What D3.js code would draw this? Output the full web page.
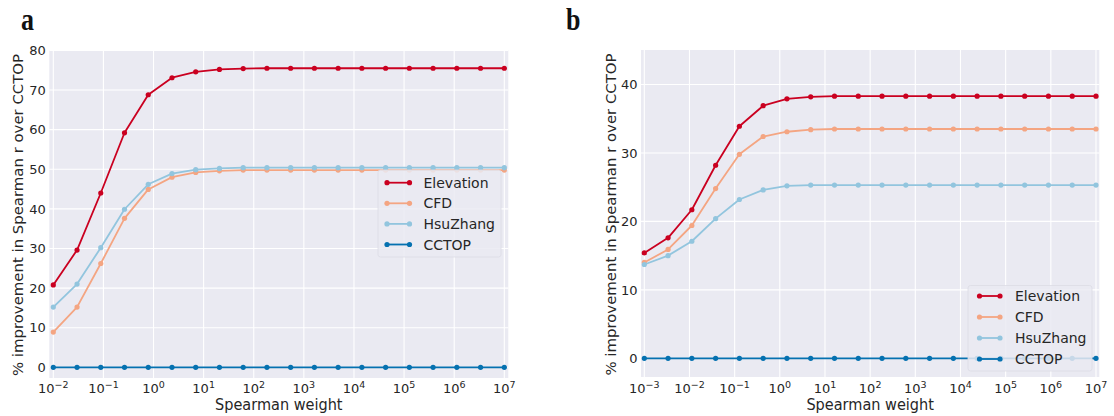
<!DOCTYPE html>
<html><head><meta charset="utf-8">
<script src="https://cdn.jsdelivr.net/npm/d3@7"></script>
<style>
html,body{margin:0;padding:0;background:#fff;}
svg{display:block;font-family:"DejaVu Sans",sans-serif;}
</style></head>
<body>
<svg id="chart" width="1114" height="416"></svg>
<script>
// ---- data ----
const seriesNames = ["Elevation", "CFD", "HsuZhang", "CCTOP"];
const seriesColors = ["#ca0020", "#f4a582", "#92c5de", "#0571b0"];

// Spearman weights (log10 exponents) for panel a and b
const weightExpA = [-2, -1.5263, -1.0526, -0.5789, -0.1053, 0.3684, 0.8421, 1.3158, 1.7895, 2.2632,
                    2.7368, 3.2105, 3.6842, 4.1579, 4.6316, 5.1053, 5.5789, 6.0526, 6.5263, 7];
const weightExpB = [-3, -2.4737, -1.9474, -1.4211, -0.8947, -0.3684, 0.1579, 0.6842, 1.2105, 1.7368,
                    2.2632, 2.7895, 3.3158, 3.8421, 4.3684, 4.8947, 5.4211, 5.9474, 6.4737, 7];

const elevationA = [20.8, 29.6, 44.0, 59.2, 68.8, 73.1, 74.6, 75.2, 75.4, 75.5, 75.5, 75.5, 75.5, 75.5, 75.5, 75.5, 75.5, 75.5, 75.5, 75.5];
const cfdA       = [8.9, 15.2, 26.2, 37.6, 44.9, 48.0, 49.2, 49.6, 49.8, 49.8, 49.8, 49.8, 49.8, 49.8, 49.8, 49.8, 49.8, 49.8, 49.8, 49.8];
const hsuZhangA  = [15.2, 21.0, 30.2, 39.9, 46.2, 48.9, 49.9, 50.2, 50.4, 50.4, 50.4, 50.4, 50.4, 50.4, 50.4, 50.4, 50.4, 50.4, 50.4, 50.4];
const cctopA     = [0, 0, 0, 0, 0, 0, 0, 0, 0, 0, 0, 0, 0, 0, 0, 0, 0, 0, 0, 0];

const elevationB = [15.4, 17.6, 21.7, 28.2, 33.9, 36.9, 37.9, 38.2, 38.3, 38.3, 38.3, 38.3, 38.3, 38.3, 38.3, 38.3, 38.3, 38.3, 38.3, 38.3];
const cfdB       = [14.0, 15.9, 19.4, 24.8, 29.8, 32.4, 33.1, 33.4, 33.5, 33.5, 33.5, 33.5, 33.5, 33.5, 33.5, 33.5, 33.5, 33.5, 33.5, 33.5];
const hsuZhangB  = [13.7, 15.0, 17.1, 20.4, 23.2, 24.6, 25.2, 25.3, 25.3, 25.3, 25.3, 25.3, 25.3, 25.3, 25.3, 25.3, 25.3, 25.3, 25.3, 25.3];
const cctopB     = [0, 0, 0, 0, 0, 0, 0, 0, 0, 0, 0, 0, 0, 0, 0, 0, 0, 0, 0, 0];

const xTickExpA = [-2, -1, 0, 1, 2, 3, 4, 5, 6, 7];
const xTickExpB = [-3, -2, -1, 0, 1, 2, 3, 4, 5, 6, 7];
const yTicksA = [0, 10, 20, 30, 40, 50, 60, 70, 80];
const yTicksB = [0, 10, 20, 30, 40];

const xLabel = "Spearman weight";
const yLabel = "% improvement in Spearman r over CCTOP";

// ---- drawing ----
const svg = d3.select("#chart");
const textColor = "#262626";

function panel(cfg) {
  const g = svg.append("g");
  const L = cfg.left, R = cfg.right, T = cfg.top, B = cfg.bottom;
  const x = d3.scaleLog().domain([Math.pow(10, cfg.xExp[0]), Math.pow(10, cfg.xExp[cfg.xExp.length - 1])])
              .range([L + cfg.xpad, R - cfg.xpad]);
  const y = d3.scaleLinear().domain(cfg.yDom).range(cfg.yRange);

  g.append("rect").attr("x", L).attr("y", T).attr("width", R - L).attr("height", B - T).attr("fill", "#EAEAF2");

  // grid
  g.selectAll(".gx").data(cfg.xTickExp).enter().append("line")
    .attr("x1", d => x(Math.pow(10, d))).attr("x2", d => x(Math.pow(10, d)))
    .attr("y1", T).attr("y2", B).attr("stroke", "#fff").attr("stroke-width", 1.1);
  g.selectAll(".gy").data(cfg.yTicks).enter().append("line")
    .attr("x1", L).attr("x2", R)
    .attr("y1", d => y(d)).attr("y2", d => y(d)).attr("stroke", "#fff").attr("stroke-width", 1.1);

  // y tick labels
  g.selectAll(".yt").data(cfg.yTicks).enter().append("text")
    .attr("x", L - 3.5).attr("y", d => y(d)).attr("dy", "0.36em")
    .attr("text-anchor", "end").attr("font-size", 13).attr("fill", textColor)
    .text(d => d);

  // x tick labels
  const xt = g.selectAll(".xt").data(cfg.xTickExp).enter().append("text")
    .attr("x", d => x(Math.pow(10, d))).attr("y", 393.3)
    .attr("text-anchor", "middle").attr("font-size", 13).attr("fill", textColor);
  xt.append("tspan").text("10");
  xt.append("tspan").attr("dy", -5.5).attr("font-size", 9.5)
    .text(d => d < 0 ? "\u2212" + Math.abs(d) : String(d));

  // axis labels
  g.append("text").attr("transform", `translate(${(L + R) / 2},410) scale(1,1.15)`)
    .attr("text-anchor", "middle").attr("font-size", 14.5).attr("fill", textColor).text(xLabel);
  g.append("text").attr("transform", `translate(${cfg.ylabX},${(T + B) / 2 + 1}) rotate(-90)`)
    .attr("text-anchor", "middle").attr("dominant-baseline", "central")
    .attr("font-size", 14.9).attr("fill", textColor).text(yLabel);

  // series
  const line = d3.line().x(d => x(d[0])).y(d => y(d[1]));
  cfg.series.forEach((vals, i) => {
    const pts = vals.map((v, j) => [Math.pow(10, cfg.xExp[j]), v]);
    g.append("path").datum(pts).attr("d", line).attr("fill", "none")
      .attr("stroke", seriesColors[i]).attr("stroke-width", 1.8).attr("stroke-linejoin", "round");
    g.selectAll(null).data(pts).enter().append("circle")
      .attr("cx", d => x(d[0])).attr("cy", d => y(d[1])).attr("r", 2.6).attr("fill", seriesColors[i]);
  });

  // legend
  const lg = cfg.legend;
  g.append("rect").attr("x", lg.x0).attr("y", lg.y0).attr("width", lg.x1 - lg.x0).attr("height", lg.y1 - lg.y0)
    .attr("rx", 2.5).attr("fill", "#EAEAF2").attr("fill-opacity", 0.85)
    .attr("stroke", "#dcdce4").attr("stroke-width", 0.8);
  seriesNames.forEach((nm, i) => {
    const yy = lg.firstY + i * lg.step;
    g.append("line").attr("x1", lg.lineX0).attr("x2", lg.lineX1).attr("y1", yy).attr("y2", yy)
      .attr("stroke", seriesColors[i]).attr("stroke-width", 1.8);
    [lg.lineX0, lg.lineX1].forEach(cx => g.append("circle").attr("cx", cx).attr("cy", yy).attr("r", 2.6).attr("fill", seriesColors[i]));
    g.append("text").attr("x", lg.textX).attr("y", yy).attr("dy", "0.36em")
      .attr("font-size", 14).attr("fill", textColor).text(nm);
  });

  // panel letter
  g.append("text").attr("transform", `translate(${cfg.letterX},29.5) scale(1,1.18)`)
    .attr("font-family", "'Liberation Serif','Times New Roman',serif").attr("font-weight", "bold")
    .attr("font-size", 26).attr("fill", "#111").text(cfg.letter);
}

panel({
  letter: "a", letterX: 21,
  left: 49.3, right: 508.3, top: 50, bottom: 378, xpad: 4,
  xExp: weightExpA, xTickExp: xTickExpA,
  yDom: [0, 80], yRange: [367.3, 50.4], yTicks: yTicksA,
  ylabX: 18,
  series: [elevationA, cfdA, hsuZhangA, cctopA],
  legend: { x0: 378, x1: 501, y0: 170, y1: 257, firstY: 182.7, step: 20.6, lineX0: 387, lineX1: 409.5, textX: 423.5 }
});

panel({
  letter: "b", letterX: 566,
  left: 641, right: 1099.3, top: 50, bottom: 377, xpad: 3.3,
  xExp: weightExpB, xTickExp: xTickExpB,
  yDom: [0, 40], yRange: [358.3, 84.5], yTicks: yTicksB,
  ylabX: 610.5,
  series: [elevationB, cfdB, hsuZhangB, cctopB],
  legend: { x0: 968, x1: 1092, y0: 285.5, y1: 371, firstY: 296, step: 21, lineX0: 979.5, lineX1: 1000, textX: 1015 }
});
</script>
</body></html>
